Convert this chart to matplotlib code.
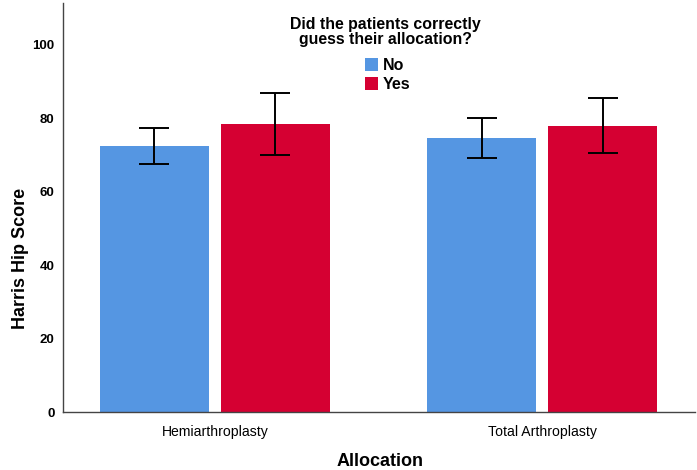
import matplotlib
matplotlib.use('Agg')
import matplotlib.pyplot as plt
import numpy as np

plt.rcParams['font.family'] = ['Liberation Sans', 'DejaVu Sans']

# data
categories = ['Hemiarthroplasty', 'Total Arthroplasty']
groups = ['No', 'Yes']
means = {'No': [72.5, 74.7], 'Yes': [78.5, 78.0]}
err_low = {'No': [67.6, 69.3], 'Yes': [70.0, 70.6]}
err_high = {'No': [77.4, 80.1], 'Yes': [86.9, 85.6]}
colors = {'No': '#5596e2', 'Yes': '#d50032'}
yticks = [0, 20, 40, 60, 80, 100]

fig = plt.figure(figsize=(6.97, 4.70), dpi=100)
ax = fig.add_axes([0.0904, 0.1234, 0.9066, 0.8702])

x = np.arange(len(categories))
width = 0.333
offsets = {'No': -0.185, 'Yes': 0.185}

for g in groups:
    m = np.array(means[g])
    lo = m - np.array(err_low[g])
    hi = np.array(err_high[g]) - m
    ax.bar(x + offsets[g], m, width=width, color=colors[g], label=g, zorder=2)
    ax.errorbar(x + offsets[g], m, yerr=[lo, hi], fmt='none', ecolor='black',
                elinewidth=1.4, capsize=11, capthick=1.4, zorder=3)

ax.set_xlim(-0.464, 1.466)
ax.set_ylim(0, 111.4)
ax.set_xticks(x)
ax.set_xticklabels(categories, fontsize=10.1)
ax.set_yticks(yticks)
ax.set_yticklabels([str(v) for v in yticks], fontsize=9.5, fontweight='bold')
ax.tick_params(axis='both', length=0)
ax.tick_params(axis='y', pad=6)
ax.tick_params(axis='x', pad=9)

for s in ['top', 'right']:
    ax.spines[s].set_visible(False)
for s in ['left', 'bottom']:
    ax.spines[s].set_color('#444444')
    ax.spines[s].set_linewidth(1.0)

# axis titles placed in figure pixels so they stay inside the canvas
fig.text(21 / 697, 1 - 258 / 470, 'Harris Hip Score', rotation=90,
         fontsize=13, fontweight='bold', ha='center', va='center')
fig.text(380 / 697, 1 - 461 / 470, 'Allocation',
         fontsize=13, fontweight='bold', ha='center', va='center')

# legend title drawn on its own, entries below it
fig.text(385 / 697, 1 - 32 / 470, 'Did the patients correctly\nguess their allocation?',
         fontsize=11.4, fontweight='bold', ha='center', va='center',
         multialignment='center', linespacing=1.05)
leg = ax.legend(loc='upper left', bbox_to_anchor=(365 / 697, 1 - 58 / 470),
                bbox_transform=fig.transFigure, frameon=False,
                prop={'weight': 'bold', 'size': 11.5},
                handlelength=0.82, handleheight=0.82, handletextpad=0.3,
                labelspacing=0.25, borderpad=0.0, borderaxespad=0.0)

fig.savefig('out.png', dpi=100)
